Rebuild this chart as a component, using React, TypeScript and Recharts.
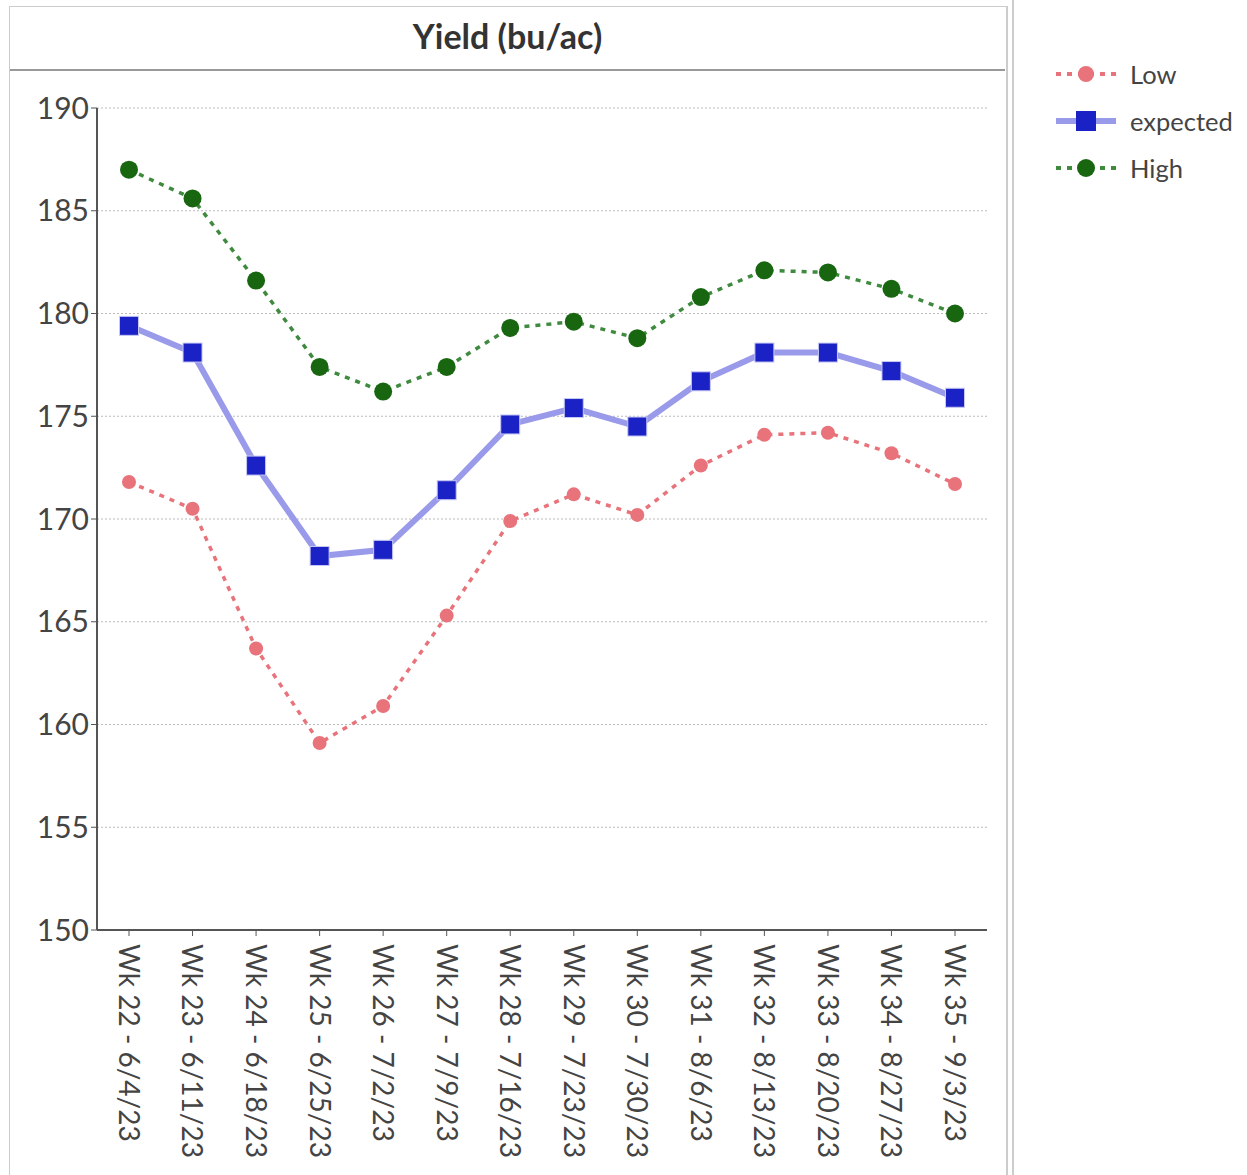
import React from 'react';
import { LineChart, Line, XAxis, YAxis, CartesianGrid } from 'recharts';

const WEEKS = [
  'Wk 22 - 6/4/23', 'Wk 23 - 6/11/23', 'Wk 24 - 6/18/23', 'Wk 25 - 6/25/23',
  'Wk 26 - 7/2/23', 'Wk 27 - 7/9/23', 'Wk 28 - 7/16/23', 'Wk 29 - 7/23/23',
  'Wk 30 - 7/30/23', 'Wk 31 - 8/6/23', 'Wk 32 - 8/13/23', 'Wk 33 - 8/20/23',
  'Wk 34 - 8/27/23', 'Wk 35 - 9/3/23',
];
const LOW = [171.8, 170.5, 163.7, 159.1, 160.9, 165.3, 169.9, 171.2, 170.2, 172.6, 174.1, 174.2, 173.2, 171.7];
const EXPECTED = [179.4, 178.1, 172.6, 168.2, 168.5, 171.4, 174.6, 175.4, 174.5, 176.7, 178.1, 178.1, 177.2, 175.9];
const HIGH = [187.0, 185.6, 181.6, 177.4, 176.2, 177.4, 179.3, 179.6, 178.8, 180.8, 182.1, 182.0, 181.2, 180.0];
const Y_TICKS = [150, 155, 160, 165, 170, 175, 180, 185, 190];

const data = WEEKS.map((week, i) => ({
  week,
  Low: LOW[i],
  expected: EXPECTED[i],
  High: HIGH[i],
}));

const FONT = 'Lato, "Open Sans", sans-serif';
const LOW_COLOR = '#e8737b';
const EXP_LINE = '#9a9aea';
const EXP_MARK = '#1a22c6';
const HIGH_LINE = '#3f8a3f';
const HIGH_MARK = '#196611';

const XTick = (props: any) => {
  const { x, y, payload } = props;
  return (
    <g transform={`translate(${x},${y + 6})`}>
      <text transform="rotate(90)" textAnchor="start" dy="0.36em" fill="#444" fontSize={28} fontFamily={FONT}>
        {payload.value}
      </text>
    </g>
  );
};

const SquareDot = (props: any) => {
  const { cx, cy, index } = props;
  if (cx == null || cy == null) return <g key={index} />;
  return <rect key={index} x={cx - 9.5} y={cy - 9.5} width={19} height={19} fill={EXP_MARK} stroke="#c8c8f4" strokeWidth={1} />;
};

const legendItems = [
  { name: 'Low', kind: 'low' },
  { name: 'expected', kind: 'exp' },
  { name: 'High', kind: 'high' },
];

const ChartLegend = () => (
  <div style={{ position: 'absolute', left: 1056, top: 50, fontFamily: FONT, fontSize: 25.5, color: '#444' }}>
    {legendItems.map((it) => (
      <div key={it.name} style={{ display: 'flex', alignItems: 'center', height: 47 }}>
        <svg width={60} height={24} style={{ marginRight: 14 }}>
          {it.kind === 'exp' ? (
            <>
              <line x1={0} y1={12} x2={60} y2={12} stroke={EXP_LINE} strokeWidth={6} />
              <rect x={20} y={2} width={20} height={20} fill={EXP_MARK} />
            </>
          ) : (
            <>
              <line x1={0} y1={12} x2={60} y2={12} stroke={it.kind === 'low' ? LOW_COLOR : HIGH_LINE}
                strokeWidth={4} strokeDasharray="5 6" />
              <circle cx={30} cy={12} r={it.kind === 'low' ? 8 : 9} fill={it.kind === 'low' ? LOW_COLOR : HIGH_MARK} />
            </>
          )}
        </svg>
        <span>{it.name}</span>
      </div>
    ))}
  </div>
);

export default function App() {
  return (
    <div style={{ position: 'absolute', left: 0, top: 0, width: 1247, height: 1175, background: '#fff' }}>
      {/* panel frame */}
      <div style={{ position: 'absolute', left: 9, top: 6, width: 996, height: 1175, borderLeft: '1px solid #ccc', borderTop: '1px solid #ccc', borderRight: '2px solid #ccc' }} />
      <div style={{ position: 'absolute', left: 1012, top: 0, width: 2, height: 1175, background: '#ccc' }} />
      <div style={{ position: 'absolute', left: 10, top: 69, width: 995, height: 2, background: '#999' }} />
      <div style={{ position: 'absolute', left: 10, top: 15, width: 995, textAlign: 'center', fontFamily: FONT, fontWeight: 700, fontSize: 34, color: '#333' }}>
        Yield (bu/ac)
      </div>
      <div style={{ position: 'absolute', left: 0, top: 0 }}>
        <LineChart width={1247} height={1175} data={data} margin={{ top: 108, right: 260, bottom: 20, left: 7 }}>
          <CartesianGrid vertical={false} stroke="#bbb" strokeDasharray="2 2" />
          <XAxis dataKey="week" padding={{ left: 32, right: 32 }} interval={0} tick={<XTick />}
            tickLine={{ stroke: '#555' }} axisLine={{ stroke: '#555', strokeWidth: 2 }} tickSize={6} height={225} />
          <YAxis domain={[150, 190]} ticks={Y_TICKS} width={90} tickSize={6}
            tick={{ fill: '#444', fontSize: 30, fontFamily: FONT }}
            tickLine={{ stroke: '#555' }} axisLine={{ stroke: '#555', strokeWidth: 2 }} />
          <Line dataKey="Low" stroke={LOW_COLOR} strokeWidth={3.5} strokeDasharray="5 6"
            dot={{ r: 7, fill: LOW_COLOR, stroke: LOW_COLOR, strokeWidth: 0 }} isAnimationActive={false} />
          <Line dataKey="expected" stroke={EXP_LINE} strokeWidth={6} dot={<SquareDot />} isAnimationActive={false} />
          <Line dataKey="High" stroke={HIGH_LINE} strokeWidth={3.5} strokeDasharray="5 6"
            dot={{ r: 9, fill: HIGH_MARK, stroke: HIGH_MARK, strokeWidth: 0 }} isAnimationActive={false} />
        </LineChart>
      </div>
      <ChartLegend />
    </div>
  );
}
